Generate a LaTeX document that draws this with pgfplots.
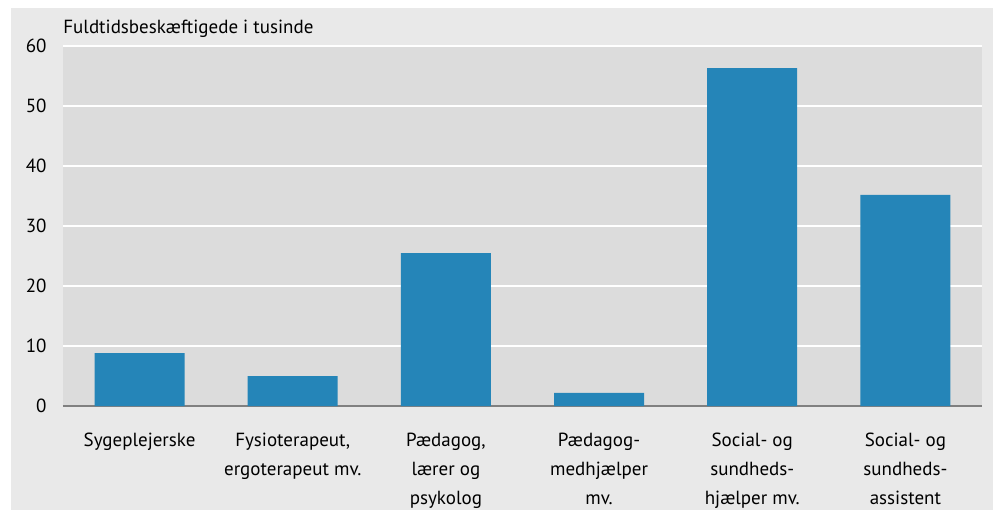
\documentclass[border=0pt]{standalone}
\usepackage{fontspec}
\setmainfont{PT Sans}
\usepackage{pgfplots}
\pgfplotsset{compat=1.18}
\definecolor{barblue}{RGB}{37,133,184}
\definecolor{outerbg}{RGB}{233,233,233}
\definecolor{plotbg}{RGB}{220,220,220}
\definecolor{baseline}{RGB}{128,128,128}
\begin{document}
\begin{tikzpicture}[x=1pt,y=1pt]
\fill[white] (-31.5,-52) rectangle (465,203);
\fill[outerbg] (-26,-52) rectangle (465,199);
\begin{axis}[at={(0,0)}, anchor=south west, scale only axis,
  width=459.5pt, height=180pt,
  xmin=-0.5, xmax=5.5, ymin=0, ymax=60,
  ytick={0,10,...,60}, xtick={0,...,5},
  xticklabels={Sygeplejerske,{Fysioterapeut,\\ergoterapeut mv.},{Pædagog,\\lærer og\\psykolog},{Pædagog-\\medhjælper\\mv.},{Social- og\\sundheds-\\hjælper mv.},{Social- og\\sundheds-\\assistent}},
  axis background/.style={fill=plotbg},
  ymajorgrids, grid style={white, line width=1pt},
  axis lines*=left,
  y axis line style={draw=none},
  x axis line style={draw=baseline, line width=0.7pt, -},
  major tick length=0pt,
  tick style={draw=none},
  tick label style={font=\fontsize{9.5}{14.5}\selectfont, text=black},
  /pgf/number format/assume math mode=true,
  yticklabel style={inner sep=0pt, xshift=-8pt},
  xticklabel style={align=center, anchor=north, inner sep=0pt, yshift=-13.5pt},
  clip=false,
]
\addplot[ybar, bar width=45pt, fill=barblue, draw=none] coordinates {(0,8.8) (1,5.0) (2,25.5) (3,2.2) (4,56.3) (5,35.2)};
\node[anchor=base west, inner sep=0pt, font=\fontsize{9.5}{14.5}\selectfont] at (rel axis cs:0,1) [yshift=6.5pt] {Fuldtidsbeskæftigede i tusinde};
\end{axis}
\pgfresetboundingbox
\path[use as bounding box] (-31.5,-52) rectangle (465,203);
\end{tikzpicture}
\end{document}
